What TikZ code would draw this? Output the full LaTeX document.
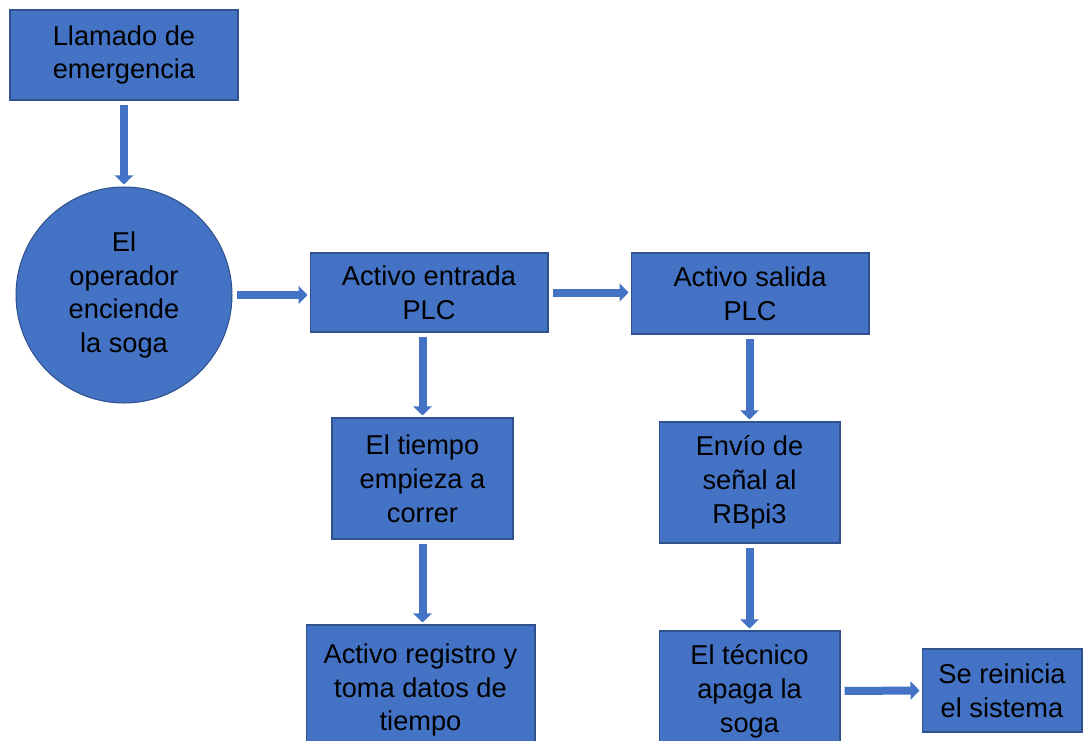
\documentclass[tikz,border=0pt]{standalone}
\usepackage{fontspec}
\setmainfont{Liberation Sans}
\usetikzlibrary{arrows.meta}
\definecolor{boxfill}{HTML}{4472C4}
\definecolor{boxline}{HTML}{2F528F}
\begin{document}
\begin{tikzpicture}[
    x=0.02cm, y=-0.02cm,
    box/.style={rectangle, fill=boxfill, draw=boxline, line width=0.6pt,
      align=center, inner sep=0pt, font=\fontsize{15.5}{19.3}\selectfont},
    blob/.style={box, circle, minimum size=4.32cm},
    arrow/.style={draw=boxfill, line width=0.16cm,
      -{Triangle[length=0.18cm,width=0.36cm]},
      shorten <=0.08cm, shorten >=0.04cm}]

    \useasboundingbox[fill=white] (0,0) rectangle (1091,740);

    \node[box, minimum width=4.56cm, minimum height=1.8cm] (llamado) at (124,55) {Llamado de\\emergencia};
    \node[blob] (operador) at (124,295) {El\\operador\\enciende\\la soga};
    \draw[arrow] (llamado.south) -- (operador.north);

    \node[box, minimum width=4.76cm, minimum height=1.58cm] (entrada) at (429,292.5) {Activo entrada\\PLC};
    \node[box, minimum width=4.76cm, minimum height=1.62cm] (salida) at (750,293.5) {Activo salida\\PLC};
    \draw[arrow] (operador.east) -- (entrada.west |- operador.east);
    \draw[arrow] (entrada.east) -- (salida.west |- entrada.east);

    \node[box, minimum width=3.62cm, minimum height=2.42cm] (tiempo) at (422.5,478.5) {El tiempo\\empieza a\\correr};
    \node[box, minimum width=4.58cm, minimum height=2.6cm] (registro) at (420.5,690) {Activo registro y\\toma datos de\\tiempo};
    \draw[arrow] (tiempo.north |- entrada.south) -- (tiempo.north);
    \draw[arrow] (tiempo.south) -- (tiempo.south |- registro.north);

    \node[box, minimum width=3.62cm, minimum height=2.42cm] (envio) at (749.5,482.5) {Envío de\\señal al\\RBpi3};
    \node[box, minimum width=3.62cm, minimum height=2.4cm] (tecnico) at (749.5,691) {El técnico\\apaga la\\soga};
    \node[box, minimum width=3.2cm, minimum height=1.66cm] (reinicia) at (1002,690.5) {Se reinicia\\el sistema};
    \draw[arrow] (envio.north |- salida.south) -- (envio.north);
    \draw[arrow] (envio.south) -- (tecnico.north);
    \draw[arrow] (tecnico.east) -- (reinicia.west);
  \end{tikzpicture}
\end{document}
